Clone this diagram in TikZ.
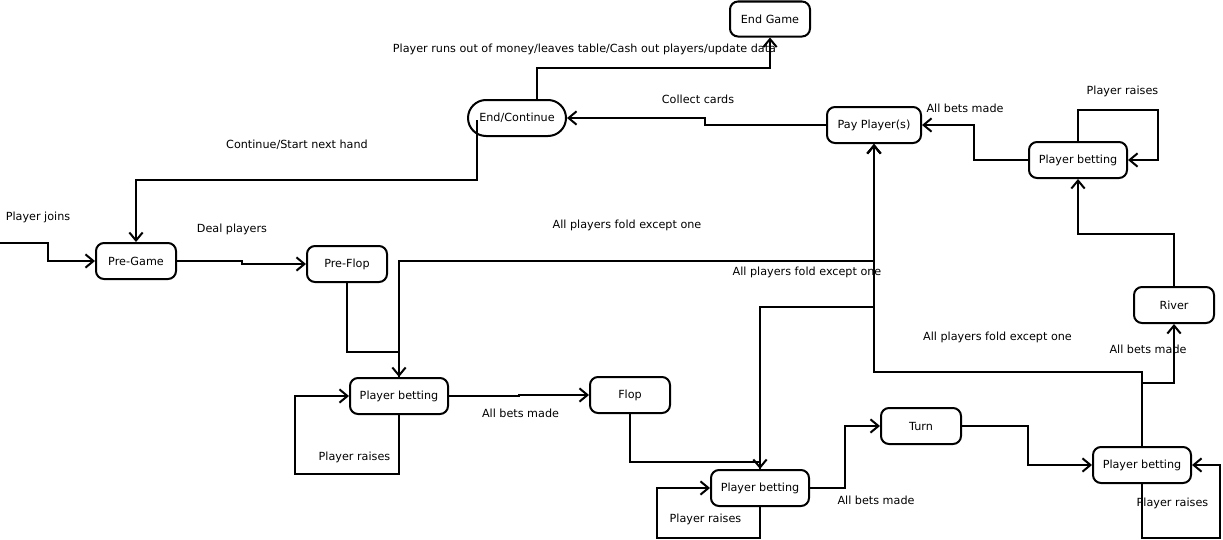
\documentclass[tikz,border=0pt]{standalone}
\usepackage{fontspec}
\setmainfont{DejaVu Sans}
\usetikzlibrary{arrows.meta,calc}

\tikzset{
  state/.style={draw, line width=1.5pt, rounded corners=6pt, fill=white,
    minimum width=60pt, minimum height=27pt, inner sep=0pt,
    font=\fontsize{8.4}{10}\selectfont},
  widestate/.style={state, minimum width=73.5pt},
  pill/.style={state, minimum width=73.5pt, rounded corners=13.5pt},
  lbl/.style={inner sep=0pt, font=\fontsize{8.4}{10}\selectfont},
  flow/.style={line width=1.5pt, -{Straight Barb[length=6pt,width=10pt]}},
  plain/.style={line width=1.5pt},
}

\begin{document}
\begin{tikzpicture}[x=0.75pt, y=-0.75pt]
\useasboundingbox (0,0) rectangle (1223,539);

% states
\node[state, minimum height=26.25pt] (endg) at (770,19) {End Game};
\node[pill] (endc) at (517,118) {End/Continue};
\node[state, minimum width=70.5pt] (pay) at (874,125) {Pay Player(s)};
\node[widestate] (pbt) at (1078,160) {Player betting};
\node[state] (pregame) at (136,261) {Pre-Game};
\node[state] (preflop) at (347,264) {Pre-Flop};
\node[state] (river) at (1174,305) {River};
\node[widestate] (pb1) at (399,396) {Player betting};
\node[state] (flop) at (630,395) {Flop};
\node[state] (turn) at (921,426) {Turn};
\node[widestate] (pb3) at (1142,465) {Player betting};
\node[widestate] (pb2) at (760,488) {Player betting};

% entry point
\coordinate (start) at (0,243);

% transitions
\draw[flow] (start) -- ++(48,0) |- (pregame.west);
\draw[flow] (pregame.east) -- ++(65,0) |- (preflop.west);
\draw[flow] (preflop.south) |- ($(pb1.north)+(0,-25)$) -- (pb1.north);
\draw[flow] (pb1.north) |- ($(pay.south)+(0,117)$) -- (pay.south);
\draw[flow] (pb1.south) -- ++(0,59) -| ($(pb1.west)+(-54,0)$) -- (pb1.west);
\draw[flow] (pb1.east) -- ++(70,0) |- (flop.west);
\draw[flow] (flop.south) |- ($(pb2.north)+(0,-7)$) -- (pb2.north);
\draw[flow] (pb2.north) |- ($(pay.south)+(0,163)$) -- (pay.south);
\draw[flow] (pb2.south) -- ++(0,31) -| ($(pb2.west)+(-53,0)$) -- (pb2.west);
\draw[flow] (pb2.east) -- ++(35,0) |- (turn.west);
\draw[flow] (turn.east) -- ++(66,0) |- (pb3.west);
\draw[flow] (pb3.south) -- ++(0,54) -| ($(pb3.east)+(28,0)$) -- (pb3.east);
\draw[flow] (pb3.north) |- ($(pay.south)+(0,228)$) -- (pay.south);
\draw[flow] (pb3.north) -- ++(0,-63) -| (river.south);
\draw[flow] (river.north) |- ($(pbt.south)+(0,55)$) -- (pbt.south);
\draw[flow] (pbt.north) -- ++(0,-31) -| ($(pbt.east)+(30,0)$) -- (pbt.east);
\draw[flow] (pbt.west) -- ++(-54,0) |- (pay.east);
\draw[flow] (pay.west) -- ++(-121,0) |- (endc.east);
\draw[flow] ($(endc.north)+(20,0)$) -- ++(0,-31) -| (endg.south);
\draw[flow] ($(endc.west)+(10,2)$) -- ++(0,60) -| (pregame.north);

% transition labels
\node[lbl] (l1) at (584.5,49) {Player runs out of money/leaves table/Cash out players/update data};
\node[lbl] (l2) at (698,99) {Collect cards};
\node[lbl] (l3) at (965,108) {All bets made};
\node[lbl] (l4) at (1122.5,91) {Player raises};
\node[lbl] (l5) at (297,145) {Continue/Start next hand};
\node[lbl] (l6) at (38,217) {Player joins};
\node[lbl] (l7) at (232,229) {Deal players};
\node[lbl] (l8) at (627,225) {All players fold except one};
\node[lbl] (l9) at (807,272) {All players fold except one};
\node[lbl] (l10) at (997.5,337) {All players fold except one};
\node[lbl] (l11) at (1148,349) {All bets made};
\node[lbl] (l12) at (354.5,457) {Player raises};
\node[lbl] (l13) at (520.5,413) {All bets made};
\node[lbl] (l14) at (705.5,519) {Player raises};
\node[lbl] (l15) at (876,500) {All bets made};
\node[lbl] (l16) at (1172.5,503) {Player raises};
\end{tikzpicture}
\end{document}
